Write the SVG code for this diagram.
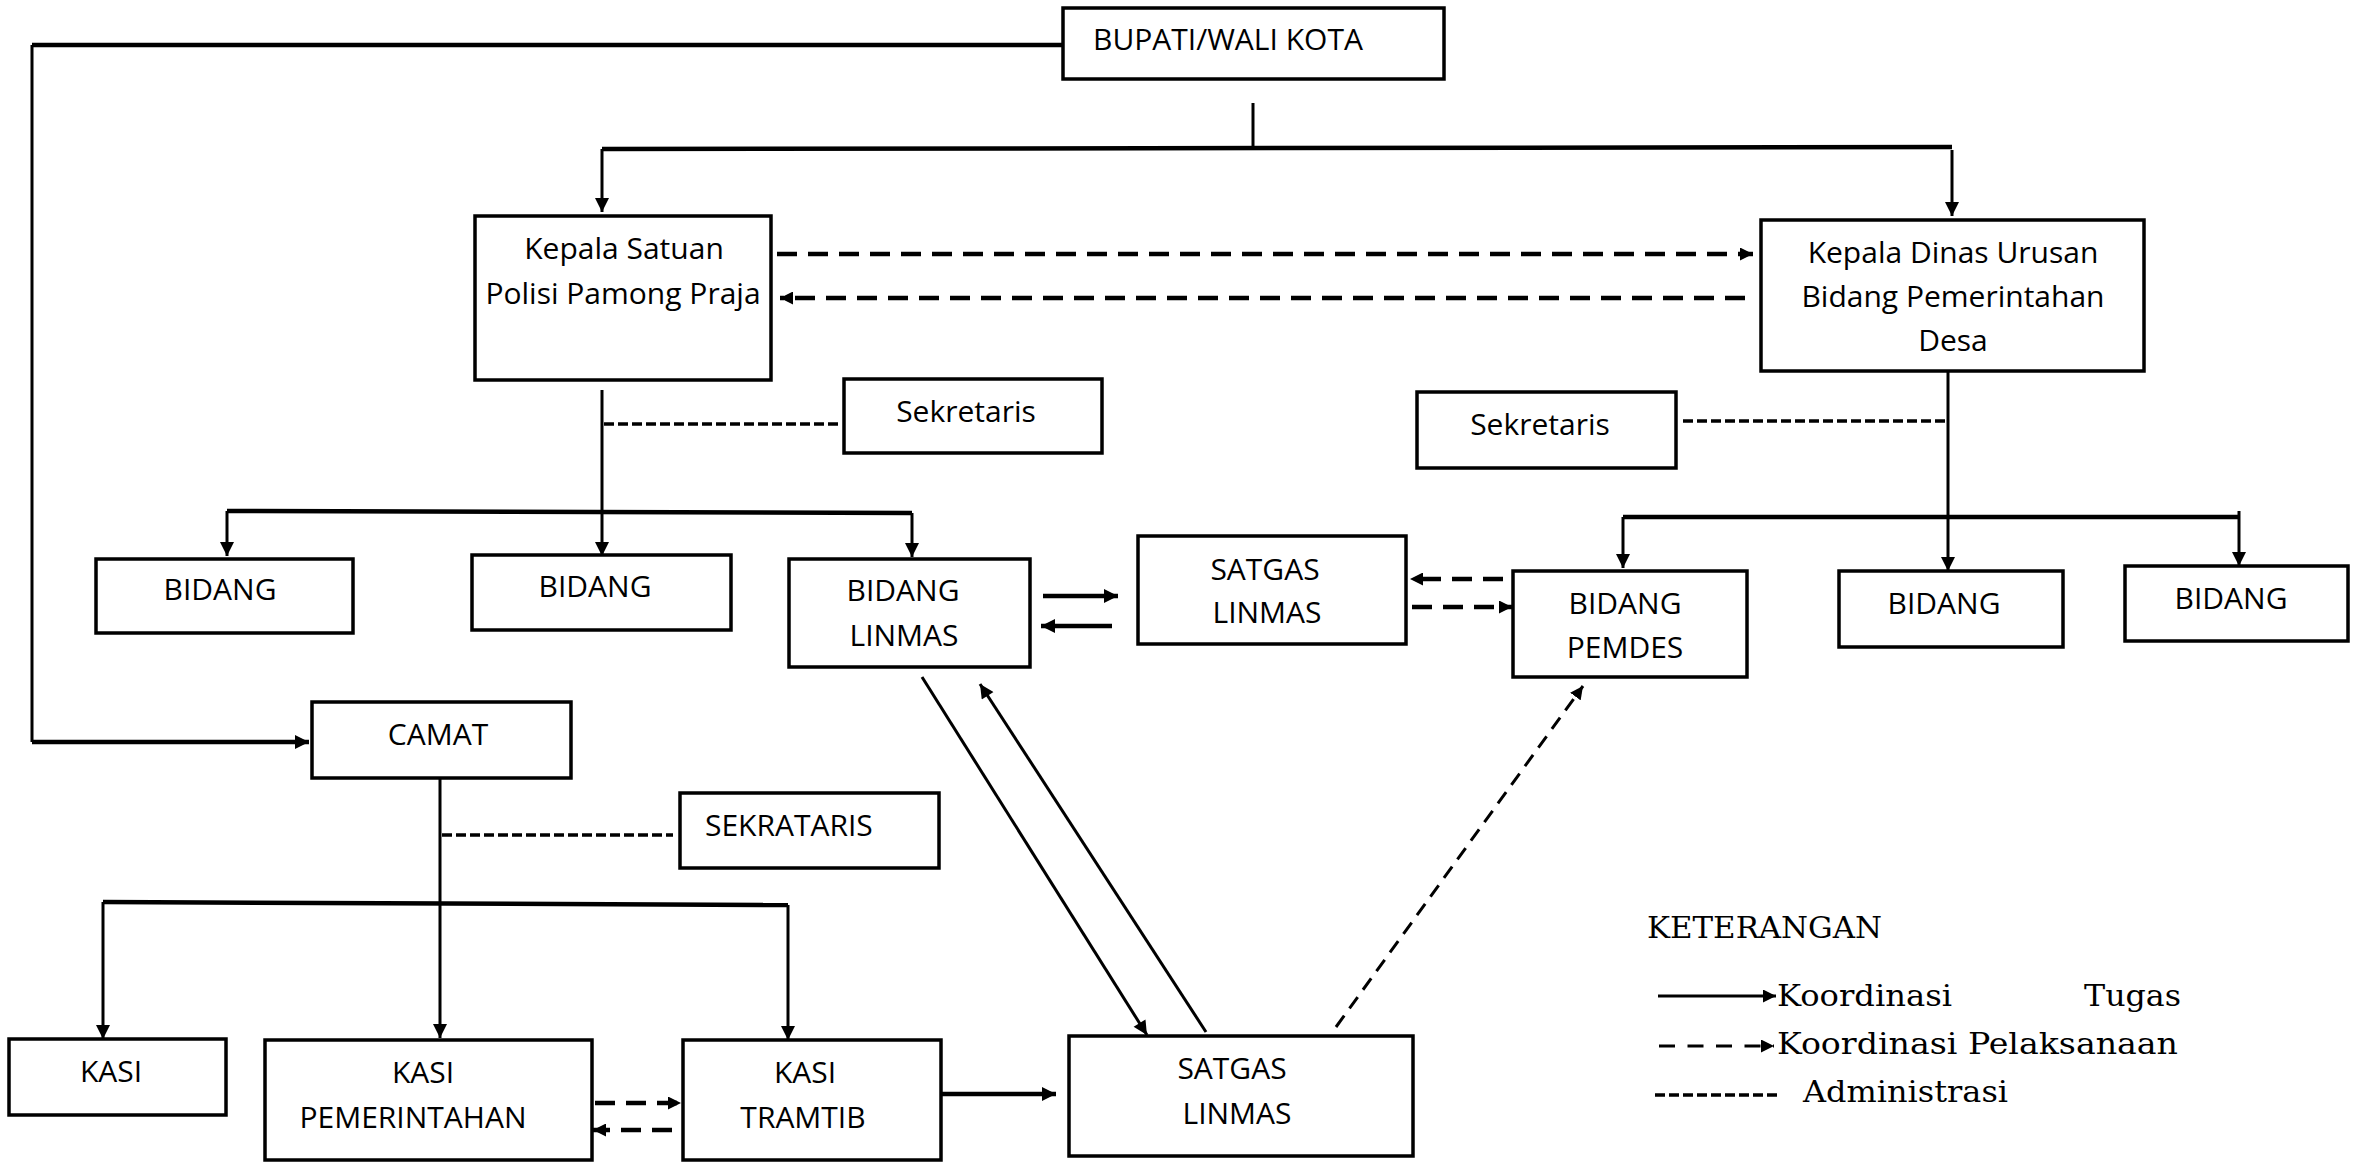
<svg xmlns="http://www.w3.org/2000/svg" width="2361" height="1163" viewBox="0 0 2361 1163">
<style>
.box{fill:#fff;stroke:#000;stroke-width:3.5}
.t{font-family:"Open Sans","Liberation Sans",sans-serif;font-size:30px;fill:#000;text-anchor:middle}
.ts{font-family:"Open Sans","Liberation Sans",sans-serif;font-size:30px;fill:#000}
.lg{font-family:"DejaVu Serif","Liberation Serif",serif;font-size:30px;fill:#000}
.ln{fill:none;stroke:#000;stroke-width:3}
.thk{fill:none;stroke:#000;stroke-width:4.5}
.dash{fill:none;stroke:#000;stroke-width:4.5;stroke-dasharray:20 11}
.adm{fill:none;stroke:#000;stroke-width:3.5;stroke-dasharray:10 4}
.dd{fill:none;stroke:#000;stroke-width:3;stroke-dasharray:14 9}
</style>
<defs>
<marker id="ah" viewBox="0 0 10 10" refX="10" refY="5" markerWidth="16" markerHeight="14" markerUnits="userSpaceOnUse" orient="auto"><path d="M0,0 L10,5 L0,10 z" fill="#000"/></marker>
<marker id="ahs" viewBox="0 0 10 10" refX="10" refY="5" markerWidth="13" markerHeight="13" markerUnits="userSpaceOnUse" orient="auto"><path d="M0,0 L10,5 L0,10 z" fill="#000"/></marker>
</defs>
<rect width="2361" height="1163" fill="#fff"/>

<g id="connectors">
<!-- Bupati to Camat -->
<path class="thk" d="M1063,45 L32,45"/>
<path class="ln" d="M32,45 L32,742"/>
<path class="thk" d="M32,742 L309,742" marker-end="url(#ah)"/>
<!-- Bupati down -->
<path class="ln" d="M1253,103 L1253,147"/>
<path class="thk" d="M602,149 L1952,147"/>
<path class="ln" d="M602,149 L602,212" marker-end="url(#ah)"/>
<path class="ln" d="M1952,150 L1952,216" marker-end="url(#ah)"/>
<!-- dashed between Kepala boxes -->
<path class="dash" d="M777,254 L1753,254" marker-end="url(#ahs)"/>
<path class="dash" d="M1745,298 L780,298" marker-end="url(#ahs)"/>
<!-- Satpol PP tree -->
<path class="ln" d="M602,390 L602,556" marker-end="url(#ah)"/>
<path class="adm" d="M604,424 L838,424"/>
<path class="thk" d="M227,511 L912,513"/>
<path class="ln" d="M227,511 L227,556" marker-end="url(#ah)"/>
<path class="ln" d="M912,513 L912,557" marker-end="url(#ah)"/>
<!-- Dinas tree -->
<path class="ln" d="M1948,372 L1948,571" marker-end="url(#ah)"/>
<path class="adm" d="M1683,421 L1946,421"/>
<path class="thk" d="M1623,517 L2239,517"/>
<path class="ln" d="M1623,517 L1623,568" marker-end="url(#ah)"/>
<path class="ln" d="M2239,511 L2239,566" marker-end="url(#ah)"/>
<!-- Bidang Linmas <-> Satgas -->
<path class="thk" d="M1043,596 L1118,596" marker-end="url(#ah)"/>
<path class="thk" d="M1112,626 L1041,626" marker-end="url(#ah)"/>
<!-- Satgas <-> Pemdes -->
<path class="dash" d="M1503,579 L1410,579" marker-end="url(#ahs)"/>
<path class="dash" d="M1412,607 L1512,607" marker-end="url(#ahs)"/>
<!-- diagonals -->
<path class="ln" d="M922,677 L1147,1035" marker-end="url(#ah)"/>
<path class="ln" d="M1206,1032 L980,684" marker-end="url(#ah)"/>
<path class="dd" d="M1336,1027 L1583,686" marker-end="url(#ahs)"/>
<!-- Camat tree -->
<path class="ln" d="M440,778 L440,1038" marker-end="url(#ah)"/>
<path class="adm" d="M442,835 L673,835"/>
<path class="thk" d="M103,902 L788,905"/>
<path class="ln" d="M103,902 L103,1039" marker-end="url(#ah)"/>
<path class="ln" d="M788,905 L788,1040" marker-end="url(#ah)"/>
<!-- Kasi pem <-> tramtib -->
<path class="dash" d="M595,1103 L681,1103" marker-end="url(#ahs)"/>
<path class="dash" d="M672,1130 L593,1130" marker-end="url(#ahs)"/>
<!-- Tramtib -> Satgas -->
<path class="thk" d="M931,1094 L1056,1094" marker-end="url(#ah)"/>
</g>

<g id="bupati"><rect class="box" x="1063" y="8" width="381" height="71"/><text class="ts" x="1093" y="50">BUPATI/WALI KOTA</text></g>
<g id="kepala-satpol"><rect class="box" x="475" y="216" width="296" height="164"/><text class="t" x="624" y="259">Kepala Satuan</text><text class="t" x="623" y="304">Polisi Pamong Praja</text></g>
<g id="kepala-dinas"><rect class="box" x="1761" y="220" width="383" height="151"/><text class="t" x="1953" y="263">Kepala Dinas Urusan</text><text class="t" x="1953" y="307">Bidang Pemerintahan</text><text class="t" x="1953" y="351">Desa</text></g>
<g id="sekretaris-1"><rect class="box" x="844" y="379" width="258" height="74"/><text class="t" x="966" y="422">Sekretaris</text></g>
<g id="sekretaris-2"><rect class="box" x="1417" y="392" width="259" height="76"/><text class="t" x="1540" y="435">Sekretaris</text></g>
<g id="bidang-1"><rect class="box" x="96" y="559" width="257" height="74"/><text class="t" x="220" y="600">BIDANG</text></g>
<g id="bidang-2"><rect class="box" x="472" y="555" width="259" height="75"/><text class="t" x="595" y="597">BIDANG</text></g>
<g id="bidang-linmas"><rect class="box" x="789" y="559" width="241" height="108"/><text class="t" x="903" y="601">BIDANG</text><text class="t" x="904" y="646">LINMAS</text></g>
<g id="satgas-linmas-1"><rect class="box" x="1138" y="536" width="268" height="108"/><text class="t" x="1265" y="580">SATGAS</text><text class="t" x="1267" y="623">LINMAS</text></g>
<g id="bidang-pemdes"><rect class="box" x="1513" y="571" width="234" height="106"/><text class="t" x="1625" y="614">BIDANG</text><text class="t" x="1625" y="658">PEMDES</text></g>
<g id="bidang-3"><rect class="box" x="1839" y="571" width="224" height="76"/><text class="t" x="1944" y="614">BIDANG</text></g>
<g id="bidang-4"><rect class="box" x="2125" y="566" width="223" height="75"/><text class="t" x="2231" y="609">BIDANG</text></g>
<g id="camat"><rect class="box" x="312" y="702" width="259" height="76"/><text class="t" x="438" y="745">CAMAT</text></g>
<g id="sekrataris"><rect class="box" x="680" y="793" width="259" height="75"/><text class="ts" x="705" y="836">SEKRATARIS</text></g>
<g id="kasi-1"><rect class="box" x="9" y="1039" width="217" height="76"/><text class="t" x="111" y="1082">KASI</text></g>
<g id="kasi-pemerintahan"><rect class="box" x="265" y="1040" width="327" height="120"/><text class="t" x="423" y="1083">KASI</text><text class="t" x="413" y="1128">PEMERINTAHAN</text></g>
<g id="kasi-tramtib"><rect class="box" x="683" y="1040" width="258" height="120"/><text class="t" x="805" y="1083">KASI</text><text class="t" x="803" y="1128">TRAMTIB</text></g>
<g id="satgas-linmas-2"><rect class="box" x="1069" y="1036" width="344" height="120"/><text class="t" x="1232" y="1079">SATGAS</text><text class="t" x="1237" y="1124">LINMAS</text></g>

<g id="legend">
<text class="lg" x="1647" y="938" textLength="235" lengthAdjust="spacingAndGlyphs">KETERANGAN</text>
<path class="ln" d="M1658,996 L1776,996" marker-end="url(#ahs)"/>
<text class="lg" y="1006"><tspan x="1777" textLength="175" lengthAdjust="spacingAndGlyphs">Koordinasi</tspan><tspan x="2084" textLength="97" lengthAdjust="spacingAndGlyphs">Tugas</tspan></text>
<path class="ln" d="M1659,1046 L1774,1046" stroke-dasharray="16 12.5" marker-end="url(#ahs)"/>
<text class="lg" x="1777" y="1054" textLength="401" lengthAdjust="spacingAndGlyphs">Koordinasi  Pelaksanaan</text>
<path class="adm" d="M1655,1095 L1779,1095" stroke-dasharray="11 4.6"/>
<text class="lg" x="1803" y="1102" textLength="205" lengthAdjust="spacingAndGlyphs">Administrasi</text>
</g>
</svg>
